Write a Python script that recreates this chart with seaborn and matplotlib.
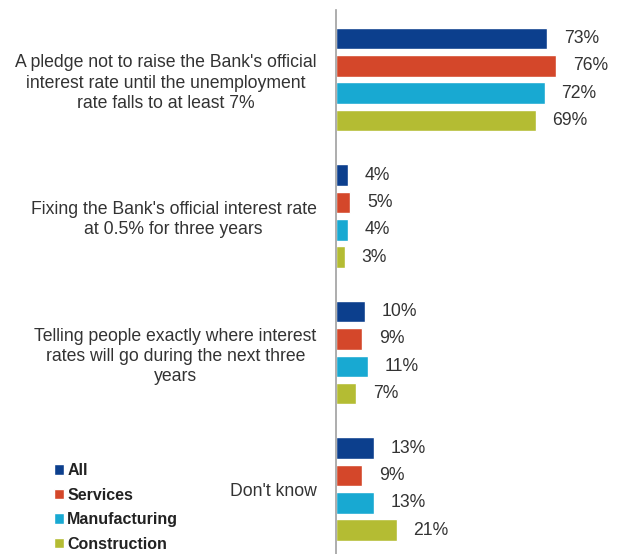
import matplotlib
matplotlib.use("Agg")
import matplotlib.pyplot as plt
import seaborn as sns
import pandas as pd

categories = [
    "A pledge not to raise the Bank's official\ninterest rate until the unemployment\nrate falls to at least 7%",
    "Fixing the Bank's official interest rate\nat 0.5% for three years",
    "Telling people exactly where interest\nrates will go during the next three\nyears",
    "Don't know",
]
series = ["All", "Services", "Manufacturing", "Construction"]
all_vals = [73, 4, 10, 13]
services_vals = [76, 5, 9, 9]
manufacturing_vals = [72, 4, 11, 13]
construction_vals = [69, 3, 7, 21]
colors = ["#0c3f8d", "#d4472a", "#18a9d2", "#b4bc33"]

rows = []
for s, vals in zip(series, [all_vals, services_vals, manufacturing_vals, construction_vals]):
    for c, v in zip(categories, vals):
        rows.append({"Category": c, "Sector": s, "Value": v})
df = pd.DataFrame(rows)

sns.set_theme(style="white")
plt.rcParams["font.family"] = ["Liberation Sans", "DejaVu Sans"]

fig = plt.figure(figsize=(6.17, 5.54), dpi=100)
ax = fig.add_axes([336 / 617, 0, 1 - 336 / 617, 1 - 10 / 554])

sns.barplot(data=df, y="Category", x="Value", hue="Sector", orient="h",
            palette=colors, width=0.8, gap=0.21, ax=ax, legend=True,
            saturation=1)

ax.set_xlim(0, 97)
ax.set_ylim(3.475, -0.51)
ax.set_xlabel("")
ax.set_ylabel("")
ax.set_xticks([])
for sp in ["top", "right", "bottom"]:
    ax.spines[sp].set_visible(False)
ax.spines["left"].set_color("#a0a0a0")
ax.spines["left"].set_linewidth(1.2)
ax.tick_params(axis="y", length=0, pad=14)
for lab in ax.get_yticklabels():
    lab.set_multialignment("center")
    lab.set_fontsize(12.7)
    lab.set_linespacing(1.25)
    lab.set_color("#333333")

for cont in ax.containers:
    ax.bar_label(cont, fmt="{:.0f}%", padding=12, fontsize=12.7, color="#333333")

handles, labels = ax.get_legend_handles_labels()
ax.get_legend().remove()
leg = fig.legend(handles, labels, loc="upper left",
                 bbox_to_anchor=(54 / 617, 1 - 463 / 554), frameon=False,
                 handlelength=0.62, handleheight=0.62, handletextpad=0.2,
                 labelspacing=0.6, borderaxespad=0, borderpad=0,
                 prop={"weight": "bold", "size": 11.5})
for t in leg.get_texts():
    t.set_color("#222222")

fig.savefig("out.png", dpi=100)
